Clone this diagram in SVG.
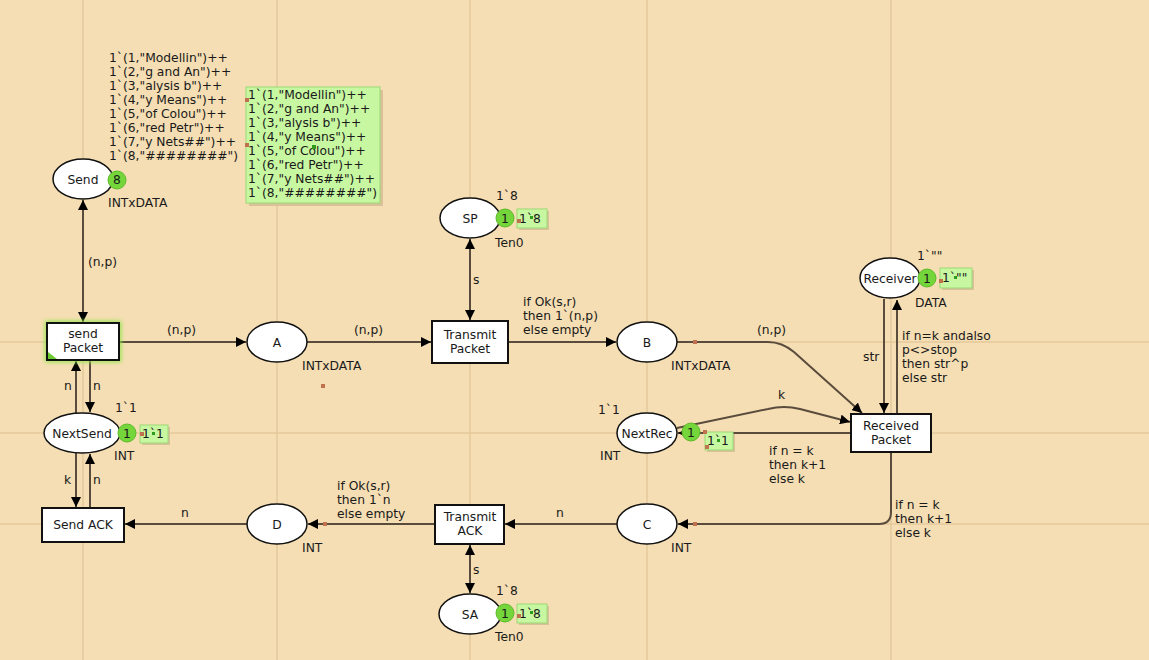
<svg xmlns="http://www.w3.org/2000/svg" width="1149" height="660" viewBox="0 0 1149 660">
  <defs>
    <style>
      text { font-family: "DejaVu Sans", Verdana, sans-serif; font-size: 12.3px; fill: #1a1a1a; }
      .mid { text-anchor: middle; }
      .grid { stroke: #E4C99C; stroke-width: 1.5; }
      .place { fill: #ffffff; stroke: #111; stroke-width: 1.5; }
      .trans { fill: #ffffff; stroke: #111; stroke-width: 2; }
      .arc { fill: none; stroke: #5a4c3c; stroke-width: 2; }
      .tok { fill: #74D63A; stroke: #5DBA2A; stroke-width: 1; }
      .mark { fill: #C8F7A2; stroke: #9BD874; stroke-width: 1; }
      .shadow { fill: #d9c299; }
      .dot { fill: #C0714F; }
      .gdot { fill: #2f9a20; }
    </style>
    <marker id="ah" viewBox="0 0 10 10" refX="10" refY="5" markerWidth="10" markerHeight="10" markerUnits="userSpaceOnUse" orient="auto-start-reverse">
      <path d="M0,0 L10,5 L0,10 Z" fill="#000"/>
    </marker>
    <filter id="glow" x="-20%" y="-30%" width="140%" height="160%">
      <feGaussianBlur stdDeviation="2"/>
    </filter>
  </defs>

  <!-- canvas -->
  <rect width="1149" height="660" fill="#F5DEB3"/>
  <g id="grid">
    <line class="grid" x1="83" y1="0" x2="83" y2="660"/>
    <line class="grid" x1="277" y1="0" x2="277" y2="660"/>
    <line class="grid" x1="470" y1="0" x2="470" y2="660"/>
    <line class="grid" x1="647" y1="0" x2="647" y2="660"/>
    <line class="grid" x1="891" y1="0" x2="891" y2="660"/>
    <line class="grid" x1="0" y1="342" x2="1149" y2="342"/>
    <line class="grid" x1="0" y1="433" x2="1149" y2="433"/>
    <line class="grid" x1="0" y1="524" x2="1149" y2="524"/>
  </g>

  <!-- arcs -->
  <g id="connectors">
    <path class="arc" d="M83,200 L83,322" marker-start="url(#ah)" marker-end="url(#ah)"/>
    <text x="88" y="266">(n,p)</text>
    <path class="arc" d="M119,342 L246,342" marker-end="url(#ah)"/>
    <text x="167" y="334">(n,p)</text>
    <path class="arc" d="M307,342 L431,342" marker-end="url(#ah)"/>
    <text x="354" y="334">(n,p)</text>
    <path class="arc" d="M470,239 L470,320" marker-start="url(#ah)" marker-end="url(#ah)"/>
    <text x="473" y="284">s</text>
    <path class="arc" d="M508,342 L616,342" marker-end="url(#ah)"/>
    <text x="523" y="306">if Ok(s,r)</text>
    <text x="523" y="320">then 1`(n,p)</text>
    <text x="523" y="334">else empty</text>
    <path class="arc" d="M677,342 L768,342 Q782,342 794,352 L862,413" marker-end="url(#ah)"/>
    <text x="757" y="334">(n,p)</text>
    <path class="arc" d="M884,299 L884,413" marker-end="url(#ah)"/>
    <text x="863" y="361">str</text>
    <path class="arc" d="M897,413 L897,300" marker-end="url(#ah)"/>
    <text x="902" y="340">if n=k andalso</text>
    <text x="902" y="354">p&lt;&gt;stop</text>
    <text x="902" y="368">then str^p</text>
    <text x="902" y="382">else str</text>
    <path class="arc" d="M677,428 L768,409 Q784,405 800,409 L850,422" marker-end="url(#ah)"/>
    <text x="778" y="399">k</text>
    <path class="arc" d="M851,433 L678,433" marker-end="url(#ah)"/>
    <text x="769" y="455">if n = k</text>
    <text x="769" y="469">then k+1</text>
    <text x="769" y="483">else k</text>
    <path class="arc" d="M891,452 L891,512 Q891,524 879,524 L678,524" marker-end="url(#ah)"/>
    <text x="895" y="509">if n = k</text>
    <text x="895" y="523">then k+1</text>
    <text x="895" y="537">else k</text>
    <path class="arc" d="M617,524 L505,524" marker-end="url(#ah)"/>
    <text x="556" y="517">n</text>
    <path class="arc" d="M470,545 L470,593" marker-start="url(#ah)" marker-end="url(#ah)"/>
    <text x="473" y="574">s</text>
    <path class="arc" d="M435,524 L308,524" marker-end="url(#ah)"/>
    <text x="337" y="490">if Ok(s,r)</text>
    <text x="337" y="504">then 1`n</text>
    <text x="337" y="518">else empty</text>
    <path class="arc" d="M247,524 L125,524" marker-end="url(#ah)"/>
    <text x="181" y="517">n</text>
    <path class="arc" d="M90,361 L90,412" marker-end="url(#ah)"/>
    <text x="93" y="390">n</text>
    <path class="arc" d="M76,413 L76,361" marker-end="url(#ah)"/>
    <text x="64" y="390">n</text>
    <path class="arc" d="M76,453 L76,507" marker-end="url(#ah)"/>
    <text x="64" y="484">k</text>
    <path class="arc" d="M90,508 L90,454" marker-end="url(#ah)"/>
    <text x="93" y="484">n</text>
  </g>

  <!-- Send -->
  <g id="send">
    <ellipse class="place" cx="83" cy="179" rx="30" ry="20"/>
    <text class="mid" x="83" y="183.5">Send</text>
    <circle class="tok" cx="117" cy="180" r="9"/>
    <text class="mid" x="117" y="184">8</text>
    <text x="108" y="207">INTxDATA</text>
    <text x="109" y="62">1`(1,"Modellin")++</text>
    <text x="109" y="76">1`(2,"g and An")++</text>
    <text x="109" y="90">1`(3,"alysis b")++</text>
    <text x="109" y="104">1`(4,"y Means")++</text>
    <text x="109" y="118">1`(5,"of Colou")++</text>
    <text x="109" y="132">1`(6,"red Petr")++</text>
    <text x="109" y="146">1`(7,"y Nets##")++</text>
    <text x="109" y="160">1`(8,"########")</text>
    <rect class="shadow" x="249" y="90" width="134" height="116"/>
    <rect class="mark" x="246" y="87" width="134" height="116"/>
    <text x="248" y="99">1`(1,"Modellin")++</text>
    <text x="248" y="113">1`(2,"g and An")++</text>
    <text x="248" y="127">1`(3,"alysis b")++</text>
    <text x="248" y="141">1`(4,"y Means")++</text>
    <text x="248" y="155">1`(5,"of Colou")++</text>
    <text x="248" y="169">1`(6,"red Petr")++</text>
    <text x="248" y="183">1`(7,"y Nets##")++</text>
    <text x="248" y="197">1`(8,"########")</text>
    <rect class="dot" x="245" y="98" width="4" height="4"/>
    <rect class="dot" x="245" y="143" width="4" height="4"/>
    <rect class="gdot" x="312" y="145" width="4" height="4"/>
  </g>

  <!-- send Packet -->
  <g id="sendPacket">
    <rect x="45" y="321" width="76" height="41" fill="#8EE64A" filter="url(#glow)"/>
    <rect class="trans" x="47" y="323" width="72" height="37"/>
    <path d="M48,359 L48,352 L57,359 Z" fill="#6CCB2E"/>
    <text class="mid" x="83" y="338">send</text>
    <text class="mid" x="83" y="352">Packet</text>
  </g>

  <!-- NextSend -->
  <g id="nextSend">
    <ellipse class="place" cx="82" cy="433" rx="38" ry="20"/>
    <text class="mid" x="82" y="437.5">NextSend</text>
    <circle class="tok" cx="127" cy="433" r="9"/>
    <text class="mid" x="127" y="437.5">1</text>
    <rect class="shadow" x="142" y="427" width="28" height="18"/>
    <rect class="mark" x="140" y="425" width="28" height="18"/>
    <text x="142" y="438">1`1</text>
    <rect class="dot" x="140" y="432" width="4" height="4"/>
    <rect class="gdot" x="152" y="432" width="3" height="3"/>
    <text x="115" y="412">1`1</text>
    <text x="114" y="460">INT</text>
  </g>

  <!-- Send ACK -->
  <g id="sendAck">
    <rect class="trans" x="42" y="508" width="82" height="34"/>
    <text class="mid" x="83" y="529">Send ACK</text>
  </g>

  <!-- A -->
  <g id="placeA">
    <ellipse class="place" cx="277" cy="342" rx="30" ry="20"/>
    <text class="mid" x="277" y="346.5">A</text>
    <text x="302" y="370">INTxDATA</text>
    <rect class="dot" x="321" y="384" width="4" height="4"/>
  </g>

  <!-- Transmit Packet -->
  <g id="transmitPacket">
    <rect class="trans" x="432" y="321" width="76" height="42"/>
    <text class="mid" x="470" y="339">Transmit</text>
    <text class="mid" x="470" y="353">Packet</text>
  </g>

  <!-- SP -->
  <g id="placeSP">
    <ellipse class="place" cx="470" cy="218" rx="30" ry="20"/>
    <text class="mid" x="470" y="222.5">SP</text>
    <circle class="tok" cx="505" cy="218" r="9"/>
    <text class="mid" x="505" y="222.5">1</text>
    <rect class="shadow" x="519" y="211" width="30" height="19"/>
    <rect class="mark" x="517" y="209" width="30" height="19"/>
    <text x="519" y="223">1`8</text>
    <rect class="dot" x="517" y="219" width="4" height="4"/>
    <rect class="gdot" x="530" y="216" width="3" height="3"/>
    <text x="496" y="200">1`8</text>
    <text x="495" y="247">Ten0</text>
  </g>

  <!-- B -->
  <g id="placeB">
    <ellipse class="place" cx="647" cy="342" rx="30" ry="20"/>
    <text class="mid" x="647" y="346.5">B</text>
    <text x="671" y="370">INTxDATA</text>
    <rect class="dot" x="693" y="340" width="4" height="4"/>
  </g>

  <!-- Receiver -->
  <g id="receiver">
    <ellipse class="place" cx="890" cy="278" rx="30" ry="20"/>
    <text class="mid" x="890" y="282.5">Receiver</text>
    <circle class="tok" cx="927" cy="278" r="9"/>
    <text class="mid" x="927" y="282.5">1</text>
    <rect class="shadow" x="942" y="270" width="32" height="20"/>
    <rect class="mark" x="940" y="268" width="32" height="20"/>
    <text x="942" y="282">1`""</text>
    <rect class="dot" x="939" y="279" width="4" height="4"/>
    <rect class="gdot" x="954" y="276" width="3" height="3"/>
    <text x="917" y="260">1`""</text>
    <text x="915" y="307">DATA</text>
  </g>

  <!-- Received Packet -->
  <g id="receivedPacket">
    <rect class="trans" x="851" y="414" width="80" height="38"/>
    <text class="mid" x="891" y="430">Received</text>
    <text class="mid" x="891" y="444">Packet</text>
  </g>

  <!-- NextRec -->
  <g id="nextRec">
    <ellipse class="place" cx="647" cy="433" rx="30" ry="20"/>
    <text class="mid" x="647" y="437.5">NextRec</text>
    <circle class="tok" cx="691" cy="432" r="9"/>
    <text class="mid" x="691" y="436.5">1</text>
    <rect class="shadow" x="707" y="434" width="28" height="18"/>
    <rect class="mark" x="705" y="432" width="28" height="18"/>
    <text x="707" y="445">1`1</text>
    <rect class="dot" x="703" y="430" width="4" height="4"/>
    <rect class="dot" x="705" y="445" width="4" height="4"/>
    <rect class="gdot" x="717" y="439" width="3" height="3"/>
    <text x="598" y="414">1`1</text>
    <text x="600" y="460">INT</text>
  </g>

  <!-- C -->
  <g id="placeC">
    <ellipse class="place" cx="647" cy="524" rx="30" ry="20"/>
    <text class="mid" x="647" y="528.5">C</text>
    <text x="671" y="552">INT</text>
    <rect class="dot" x="693" y="522" width="4" height="4"/>
  </g>

  <!-- Transmit ACK -->
  <g id="transmitAck">
    <rect class="trans" x="435" y="505" width="69" height="39"/>
    <text class="mid" x="470" y="521">Transmit</text>
    <text class="mid" x="470" y="535">ACK</text>
  </g>

  <!-- SA -->
  <g id="placeSA">
    <ellipse class="place" cx="470" cy="614" rx="31" ry="20"/>
    <text class="mid" x="470" y="618.5">SA</text>
    <circle class="tok" cx="505" cy="613" r="9"/>
    <text class="mid" x="505" y="617.5">1</text>
    <rect class="shadow" x="519" y="606" width="30" height="19"/>
    <rect class="mark" x="517" y="604" width="30" height="19"/>
    <text x="519" y="618">1`8</text>
    <rect class="dot" x="517" y="614" width="4" height="4"/>
    <rect class="gdot" x="530" y="611" width="3" height="3"/>
    <text x="496" y="595">1`8</text>
    <text x="495" y="641">Ten0</text>
  </g>

  <!-- D -->
  <g id="placeD">
    <ellipse class="place" cx="277" cy="524" rx="30" ry="20"/>
    <text class="mid" x="277" y="528.5">D</text>
    <text x="302" y="552">INT</text>
    <rect class="dot" x="323" y="522" width="4" height="4"/>
  </g>
</svg>
